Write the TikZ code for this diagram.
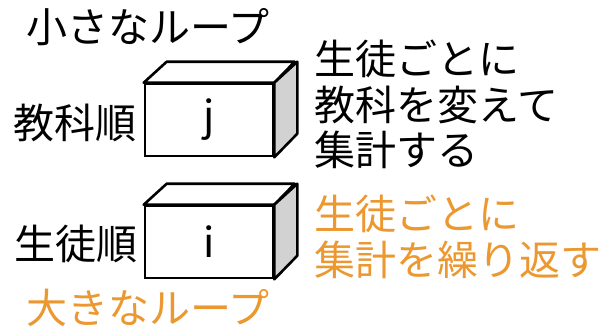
\documentclass[tikz,border=0pt]{standalone}
\usepackage{fontspec}
\setmainfont{Noto Sans CJK JP}
\definecolor{loop}{RGB}{236,152,48}
\definecolor{sideg}{RGB}{210,210,210}
\tikzset{
  txt/.style={inner sep=0pt, anchor=base west, font=\fontsize{41}{46}\selectfont},
  front/.style={draw, line width=2.6pt, fill=white, minimum width=128pt, minimum height=72pt, inner sep=0pt, font=\fontsize{41}{46}\selectfont},
  face/.style={draw, line width=2.6pt, line join=round}
}
\begin{document}
\begin{tikzpicture}[x=1pt, y=-1pt]
\useasboundingbox (0,0) rectangle (607,330);
% box j
\node[front] (j) at (209,120) {j};
\draw[face, fill=white] (j.north west) -- ++(23,-21) -- ++(128,0) -- (j.north east) -- cycle;
\draw[face, fill=sideg] (j.north east) -- ++(23,-21) -- ++(0,72) -- (j.south east) -- cycle;
% box i
\node[front] (i) at (209,242) {i};
\draw[face, fill=white] (i.north west) -- ++(23,-21) -- ++(128,0) -- (i.north east) -- cycle;
\draw[face, fill=sideg] (i.north east) -- ++(23,-21) -- ++(0,72) -- (i.south east) -- cycle;
% labels
\node[txt] (small) at (26,42) {小さなループ};
\node[txt] (kyo) at (13,138) {教科順};
\node[txt] (sei) at (14,259) {生徒順};
\node[txt, text=loop] (big) at (26,323) {大きなループ};
\node[txt] (r1) at (314,74) {生徒ごとに};
\node[txt] (r2) at (314,120) {教科を変えて};
\node[txt] (r3) at (314,165) {集計する};
\node[txt, text=loop] (o1) at (314,229) {生徒ごとに};
\node[txt, text=loop] (o2) at (314,275) {集計を繰り返す};
\end{tikzpicture}
\end{document}
